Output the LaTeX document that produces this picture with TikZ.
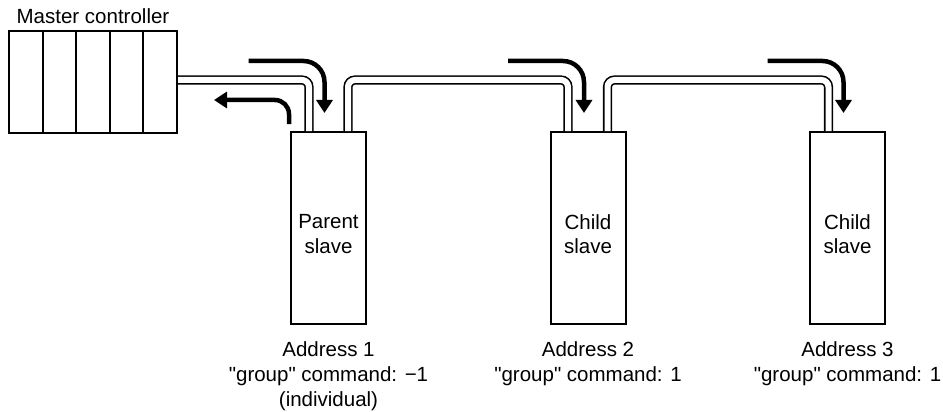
\documentclass[tikz,border=0pt]{standalone}
\usepackage{fontspec}
\setmainfont{Liberation Sans}[Ligatures=TeXOff]
\usetikzlibrary{arrows.meta, positioning}
\tikzset{
    masterbox/.style={draw, rectangle, minimum width=168pt, minimum height=102pt, line width=2pt},
    slavebox/.style={draw, rectangle, minimum width=75pt, minimum height=192pt, line width=2pt},
    boxtext/.style={align=center, font=\fontsize{20.5}{24.5}\selectfont},
    address/.style={align=center, font=\fontsize{20.5}{25}\selectfont},
    cable/.style={line width=1.6pt, double=white, double distance=6pt, rounded corners=7pt},
    flow/.style={line width=4.5pt, rounded corners=21pt, -{Triangle[length=13pt, width=16pt]}}
}
\begin{document}
\begin{tikzpicture}[x=1pt, y=-1pt]
        \useasboundingbox (0,0) rectangle (943,412);

        % Master controller
        \node (ctrl) [masterbox] at (93,82) {};
        \foreach \i in {1,...,4}
            \draw [line width=2pt] ([xshift=\i*33.6pt+1pt]ctrl.south west) -- ([xshift=\i*33.6pt+1pt]ctrl.north west);
        \node (ctrllabel) [boxtext, above=3pt of ctrl] {Master controller};

        % Slaves
        \node (parent) [slavebox] at (328.5,228) {};
        \node (childA) [slavebox] at (588,228) {};
        \node (childB) [slavebox] at (847.5,228) {};
        \node (parenttext) [boxtext] at ([yshift=-6pt]parent.center) {Parent\\slave};
        \node (childAtext) [boxtext] at ([yshift=-6pt]childA.center) {Child\\slave};
        \node (childBtext) [boxtext] at ([yshift=-6pt]childB.center) {Child\\slave};

        % Addresses
        \node (addrparent) [address, below=13pt of parent] {Address 1\\"group" command: −1\\(individual)};
        \node (addrchildA) [address, below=13pt of childA] {Address 2\\"group" command: 1};
        \node (addrchildB) [address, below=13pt of childB] {Address 3\\"group" command: 1};

        % Cables
        \draw [cable] ([yshift=2pt]ctrl.east) -| ([xshift=-19.5pt]parent.north);
        \draw [cable] ([xshift=19.5pt]parent.north) -- ++(0,-51) -| ([xshift=-20pt]childA.north);
        \draw [cable] ([xshift=19.5pt]childA.north) -- ++(0,-51) -| ([xshift=-19pt]childB.north);

        % Command flow
        \foreach \b in {parent, childA, childB}
            \draw [flow] ([shift={(-80,-70)}]\b.north) -| ([shift={(-4,-18)}]\b.north);
        \draw [flow, rounded corners=14pt] ([shift={(-39.5,-7)}]parent.north) |- ([shift={(-114.5,-31)}]parent.north);

    \end{tikzpicture}
\end{document}
